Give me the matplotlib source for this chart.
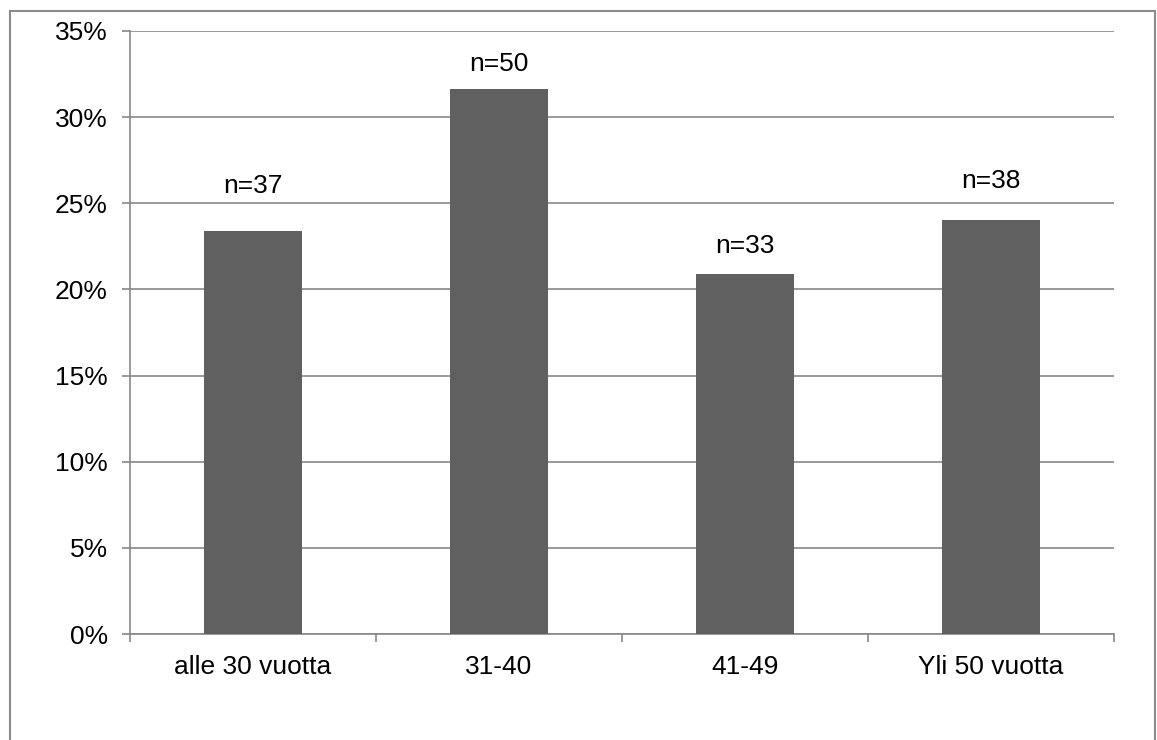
import matplotlib.pyplot as plt
from matplotlib.patches import Rectangle
from matplotlib.ticker import FuncFormatter, FixedLocator

# age groups and respondent counts (share = n / total)
groups = ["alle 30 vuotta", "31-40", "41-49", "Yli 50 vuotta"]
counts = [37, 50, 33, 38]
total = sum(counts)
shares = [100 * c / total for c in counts]
# label height above each bar, in percentage points
label_lift = [2.2, 1.05, 1.2, 1.85]

plt.rcParams['font.family'] = ['Liberation Sans', 'DejaVu Sans']
FS = 19

fig = plt.figure(figsize=(11.57, 7.40), dpi=100)
ax = fig.add_axes([130 / 1157, 1 - 634 / 740, 984 / 1157, 603 / 740])

# outer chart border
fig.patches.append(Rectangle((10 / 1157, -0.1), 1145 / 1157, 1.1 - 11 / 740,
                             transform=fig.transFigure, fill=False,
                             edgecolor='#8c8c8c', linewidth=1.5))

x = range(len(groups))
ax.bar(x, shares, width=0.4, color='#606060', zorder=3)

for i, (s, c) in enumerate(zip(shares, counts)):
    ax.text(i, s + label_lift[i], f"n={c}", ha='center', va='baseline',
            fontsize=FS, color='black')

ax.set_xlim(-0.5, len(groups) - 0.5)
ax.set_ylim(0, 35)
ax.set_yticks(range(0, 36, 5))
ax.yaxis.set_major_formatter(FuncFormatter(lambda v, p: f"{v:.0f}%"))
ax.yaxis.grid(True, color='#878787', linewidth=1.2, zorder=0)

# category labels centred, ticks on the group boundaries
ax.set_xticks([i - 0.5 for i in range(len(groups) + 1)])
ax.set_xticklabels([])
ax.xaxis.set_minor_locator(FixedLocator(list(x)))
ax.set_xticks(list(x), groups, minor=True)
ax.tick_params(axis='x', which='minor', length=0, pad=15, labelsize=FS)
ax.tick_params(axis='x', which='major', length=6, width=1.2, color='#878787')
ax.tick_params(axis='y', length=6, width=1.2, color='#878787', pad=10, labelsize=FS)

for side in ['top', 'right']:
    ax.spines[side].set_visible(False)
for side in ['left', 'bottom']:
    ax.spines[side].set_color('#878787')
    ax.spines[side].set_linewidth(1.2)

fig.savefig("out.png", dpi=100)
